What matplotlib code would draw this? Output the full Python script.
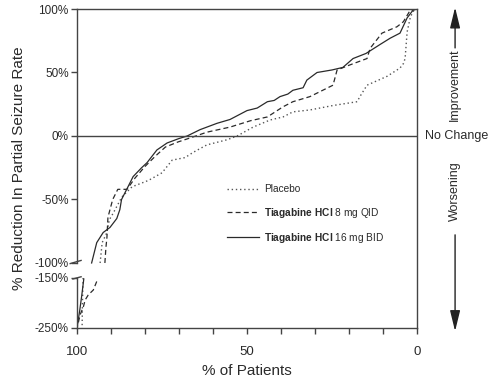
import numpy as np
import matplotlib
matplotlib.use("Agg")
import matplotlib.pyplot as plt

plt.rcParams['font.family'] = ['Liberation Sans', 'DejaVu Sans']
plt.rcParams['mathtext.fontset'] = 'custom'
plt.rcParams['mathtext.rm'] = 'Liberation Sans'
plt.rcParams['mathtext.bf'] = 'Liberation Sans:bold'

INK = '#2a2a2a'

# % of patients (x) vs % reduction (y); each curve is split at the axis break
placebo_x_hi = [93.2, 92.6, 91.2, 90.5, 89.4, 86.8, 83.8, 79.0, 75.0, 72.0, 68.2, 65.9, 61.8,
                55.9, 52.9, 48.2, 43.2, 39.4, 36.5, 31.5, 24.7, 17.6, 16.8, 14.7, 8.8, 5.0,
                4.0, 3.5, 2.9, 2.0, 1.2, 0.0]
placebo_y_hi = [-100, -84, -76, -66, -61, -48, -40, -35, -29, -19, -17, -13, -7,
                -3, 0, 7, 12.6, 15, 19, 20.5, 24, 27, 31, 40, 47, 53.5,
                57, 61, 82, 93, 98, 100]
placebo_x_lo = [98.2, 98.4, 98.5]
placebo_y_lo = [-150, -200, -250]

qid_x_hi = [91.8, 91.5, 91.2, 90.9, 89.5, 88.0, 85.3, 82.9, 80.0, 77.0, 74.0, 70.3, 66.8,
            61.8, 55.0, 49.0, 44.0, 39.4, 36.5, 31.5, 24.7, 23.5, 19.7, 14.7, 13.8,
            10.3, 5.9, 4.0, 2.0, 0.0]
qid_y_hi = [-100, -88, -80, -64, -50, -42, -42, -33, -24, -16, -8.7, -4.7, -1.6,
            3, 7, 12, 15, 23, 27, 31, 40, 52, 56, 61, 69,
            81, 86, 90, 99, 100]
qid_x_lo = [94.2, 95.2, 96.7, 97.6, 98.1, 99.1, 99.9]
qid_y_lo = [-157, -174, -184, -194, -207, -224, -248]

bid_x_hi = [95.7, 94.2, 92.3, 90.3, 88.3, 87.4, 86.9, 85.0, 83.5, 81.0, 79.4, 76.5, 73.5,
            70.0, 67.6, 63.8, 58.8, 55.0, 50.0, 47.0, 44.0, 42.0, 40.3, 38.0, 36.5,
            33.5, 32.4, 29.4, 25.0, 21.8, 18.8, 15.0, 10.9, 7.9, 5.0, 2.9, 1.2, 0.0]
bid_y_hi = [-100, -84, -76, -72, -65, -58, -50, -40, -32, -25, -21, -11, -5.5,
            -2, 0, 5, 10, 13, 20, 22, 27, 28, 31, 33, 36,
            38, 44, 50, 52, 54, 61, 65, 72, 77, 81, 93, 99, 100]
bid_x_lo = [100.0, 99.2, 98.6, 98.0]
bid_y_lo = [-250, -215, -185, -152]

labels = ['Placebo',
          r'$\bf{Tiagabine\ HCl}$ 8 mg QID',
          r'$\bf{Tiagabine\ HCl}$ 16 mg BID']

y_ticks = [100, 50, 0, -50, -100, -150, -250]
y_ticklabels = ['100%', '50%', '0%', '-50%', '-100%', '-150%', '-250%']


# broken y axis: -100..-150 squeezed, -150..-250 compressed
def fwd(y):
    y = np.asarray(y, float)
    return np.where(y >= -100, y,
                    np.where(y <= -150, -111.8 + (y + 150) * 0.394,
                             -100 + (y + 100) * 11.8 / 50))


def inv(t):
    t = np.asarray(t, float)
    return np.where(t >= -100, t,
                    np.where(t <= -111.8, -150 + (t + 111.8) / 0.394,
                             -100 + (t + 100) * 50 / 11.8))


fig = plt.figure(figsize=(4.97, 3.84), dpi=100)
ax = fig.add_axes([77 / 497, 56 / 384, 340 / 497, 319 / 384])
ax.set_yscale('function', functions=(fwd, inv))
ax.set_xlim(100, 0)
ax.set_ylim(-250, 100)

styles = [dict(ls=(0, (1, 2)), color='#555555', lw=1.0),
          dict(ls=(0, (4, 2.5)), color=INK, lw=0.9),
          dict(ls='-', color=INK, lw=0.9)]
series = [(placebo_x_hi, placebo_y_hi, placebo_x_lo, placebo_y_lo),
          (qid_x_hi, qid_y_hi, qid_x_lo, qid_y_lo),
          (bid_x_hi, bid_y_hi, bid_x_lo, bid_y_lo)]
for (xh, yh, xl, yl), st, lab in zip(series, styles, labels):
    ax.plot(xh, yh, label=lab, **st)
    ax.plot(xl, yl, **st)

ax.axhline(0, color='#444444', lw=1.0)

# axes frame, left spine drawn by hand to show the break
for s in ['top', 'right', 'bottom']:
    ax.spines[s].set_color('#444444')
    ax.spines[s].set_linewidth(1.0)
ax.spines['left'].set_visible(False)
ytr = ax.get_yaxis_transform()
ax.plot([0, 0], [-100, 100], transform=ytr, color='#444444', lw=1.0, clip_on=False)
ax.plot([0, 0], [-250, -150], transform=ytr, color='#444444', lw=1.0, clip_on=False)
ax.plot([-0.02, 0.012], [-102, -98], transform=ytr, color='#444444', lw=1.0, clip_on=False)
ax.plot([-0.012, 0.012], [-152, -146], transform=ytr, color='#444444', lw=1.0, clip_on=False)

ax.set_yticks(y_ticks)
ax.set_yticklabels(y_ticklabels)
ax.yaxis.set_minor_locator(matplotlib.ticker.NullLocator())
ax.set_xticks([100, 50, 0])
ax.set_xticklabels(['100', '50', '0'])
ax.set_xticks(np.arange(10, 100, 10), minor=True)
ax.tick_params(axis='y', length=4, width=1, color='#444444', labelsize=8.5,
               labelcolor=INK, pad=2)
ax.tick_params(axis='x', which='both', length=4, width=1, color='#444444',
               labelsize=9.5, labelcolor=INK, pad=9)

ax.set_ylabel('% Reduction In Partial Seizure Rate', fontsize=11, color=INK, labelpad=6)
ax.set_xlabel('% of Patients', fontsize=11, color=INK, labelpad=4)

ax.legend(loc='upper left', bbox_to_anchor=(0.44, 0.45), frameon=False,
          fontsize=7.3, handlelength=3.2, handletextpad=0.5, labelspacing=1.1,
          borderpad=0, borderaxespad=0, labelcolor=INK)

# right-hand annotations
ax.text(1.025, 0, 'No Change', transform=ytr, fontsize=9, color=INK,
        va='center', ha='left')
ax.text(1.112, 0.762, 'Improvement', transform=ax.transAxes, rotation=90,
        fontsize=9, color=INK, ha='center', va='center')
ax.text(1.112, 0.43, 'Worsening', transform=ax.transAxes, rotation=90,
        fontsize=9, color=INK, ha='center', va='center')
arrow = dict(arrowstyle='-|>,head_length=0.9,head_width=0.22', color='#222222',
             lw=1.0, mutation_scale=14, shrinkA=0, shrinkB=0)
ax.annotate('', xy=(1.112, 1.005), xytext=(1.112, 0.878),
            xycoords='axes fraction', textcoords='axes fraction', arrowprops=arrow)
ax.annotate('', xy=(1.112, -0.01), xytext=(1.112, 0.292),
            xycoords='axes fraction', textcoords='axes fraction', arrowprops=arrow)

fig.savefig('out.png', dpi=100)
